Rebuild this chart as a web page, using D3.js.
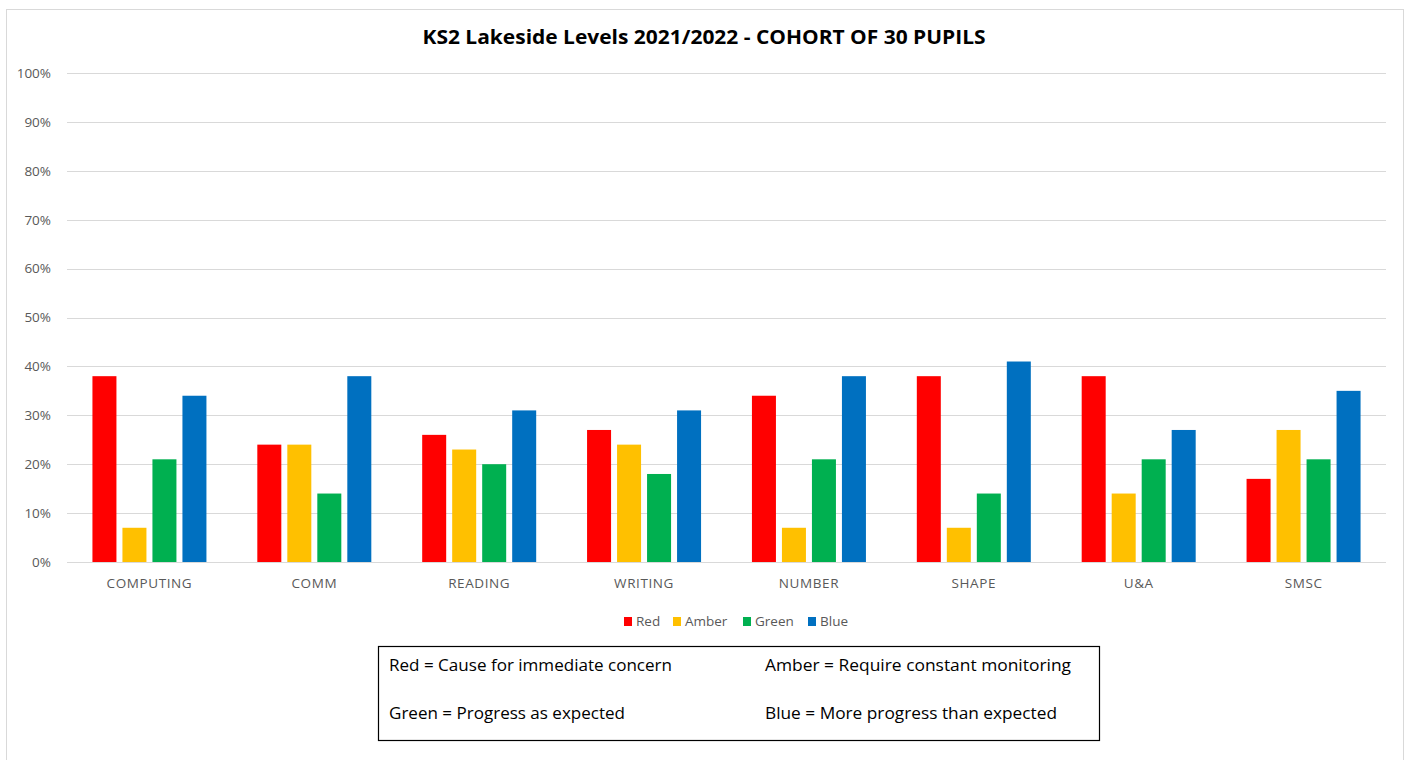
<!DOCTYPE html>
<html>
<head>
<meta charset="utf-8">
<script src="https://cdn.jsdelivr.net/npm/d3@7"></script>
<style>
  html, body { margin: 0; padding: 0; background: #fff; }
  svg { display: block; }
</style>
</head>
<body>
<svg id="chart" width="1409" height="760"></svg>
<script>
const categories = ["COMPUTING", "COMM", "READING", "WRITING", "NUMBER", "SHAPE", "U&A", "SMSC"];
const seriesNames = ["Red", "Amber", "Green", "Blue"];
const seriesColors = ["#FF0000", "#FFC000", "#00B050", "#0070C0"];
const redValues   = [38, 24, 26, 27, 34, 38, 38, 17];
const amberValues = [7, 24, 23, 24, 7, 7, 14, 27];
const greenValues = [21, 14, 20, 18, 21, 14, 21, 21];
const blueValues  = [34, 38, 31, 31, 38, 41, 27, 35];
const yTicks = [0, 10, 20, 30, 40, 50, 60, 70, 80, 90, 100];
const titleText = "KS2 Lakeside Levels 2021/2022 - COHORT OF 30 PUPILS";
const keyLines = [
  ["Red = Cause for immediate concern", "Amber = Require constant monitoring"],
  ["Green = Progress as expected", "Blue = More progress than expected"]
];

const seriesValues = [redValues, amberValues, greenValues, blueValues];

const svg = d3.select("#chart");
const labelFont = "'Open Sans', 'Liberation Sans', sans-serif";

// chart area border
svg.append("rect").attr("x", 6.5).attr("y", 9.5).attr("width", 1397).attr("height", 760)
  .attr("fill", "#fff").attr("stroke", "#d9d9d9").attr("stroke-width", 1);

// title
svg.append("text").attr("x", 704).attr("y", 44)
  .attr("text-anchor", "middle")
  .attr("font-family", labelFont)
  .attr("font-weight", "bold").attr("font-size", 19)
  .attr("fill", "#000")
  .attr("textLength", 563).attr("lengthAdjust", "spacingAndGlyphs")
  .text(titleText);

const plot = { left: 67, right: 1386, top: 73, bottom: 562 };

const y = d3.scaleLinear().domain([0, 100]).range([plot.bottom, plot.top]);
const x0 = d3.scaleBand().domain(categories).range([plot.left, plot.right]).padding(0);
const step = x0.bandwidth();
const groupW = 114;
const x1 = d3.scaleBand().domain(seriesNames)
  .range([(step - groupW) / 2, (step + groupW) / 2]).paddingInner(0.2).paddingOuter(0);

// gridlines
svg.append("g").selectAll("line").data(yTicks).join("line")
  .attr("x1", plot.left).attr("x2", plot.right)
  .attr("y1", d => Math.round(y(d)) + 0.5).attr("y2", d => Math.round(y(d)) + 0.5)
  .attr("stroke", "#d9d9d9").attr("stroke-width", 1);

// y axis labels
const yAxis = d3.axisLeft(y).tickValues(yTicks).tickFormat(d => d + "%").tickSize(0).tickPadding(0);
const yg = svg.append("g").attr("transform", `translate(${51},0)`).call(yAxis);
yg.select(".domain").remove();
yg.selectAll("text").attr("font-family", labelFont).attr("font-size", 13.5).attr("fill", "#595959");

// bars
const data = [];
categories.forEach((c, i) => {
  seriesNames.forEach((s, j) => data.push({ cat: c, series: s, value: seriesValues[j][i], color: seriesColors[j] }));
});
svg.append("g").selectAll("rect").data(data).join("rect")
  .attr("x", d => x0(d.cat) + x1(d.series))
  .attr("width", x1.bandwidth())
  .attr("y", d => y(d.value))
  .attr("height", d => y(0) - y(d.value))
  .attr("fill", d => d.color);

// x axis labels
const xAxis = d3.axisBottom(x0).tickSize(0).tickPadding(0);
const xg = svg.append("g").attr("transform", `translate(0,${578})`).call(xAxis);
xg.select(".domain").remove();
xg.selectAll("text").attr("font-family", labelFont).attr("font-size", 13.5)
  .attr("letter-spacing", 0.6).attr("fill", "#595959");

// legend
const legendItems = [
  { name: "Red", x: 624 },
  { name: "Amber", x: 673 },
  { name: "Green", x: 743 },
  { name: "Blue", x: 808 }
];
const lg = svg.append("g");
legendItems.forEach((it, j) => {
  lg.append("rect").attr("x", it.x).attr("y", 617).attr("width", 8).attr("height", 9).attr("fill", seriesColors[j]);
  lg.append("text").attr("x", it.x + 12).attr("y", 626)
    .attr("font-family", labelFont).attr("font-size", 13.5).attr("fill", "#595959")
    .text(seriesNames[j]);
});

// key box
svg.append("rect").attr("x", 378.5).attr("y", 646.5).attr("width", 721).attr("height", 94)
  .attr("fill", "#fff").attr("stroke", "#000").attr("stroke-width", 1.2);
const keyX = [389, 765];
const keyY = [671, 719];
const keyLen = [[283, 306], [236, 292]];
keyLines.forEach((row, r) => {
  row.forEach((t, c) => {
    svg.append("text").attr("x", keyX[c]).attr("y", keyY[r])
      .attr("font-family", labelFont).attr("font-size", 16.5).attr("fill", "#000")
      .attr("textLength", keyLen[r][c]).attr("lengthAdjust", "spacingAndGlyphs")
      .text(t);
  });
});
</script>
</body>
</html>
